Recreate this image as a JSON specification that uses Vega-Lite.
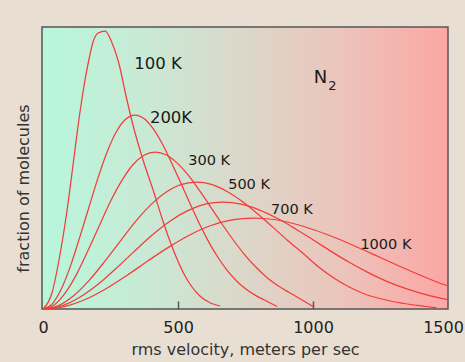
{
  "$schema": "https://vega.github.io/schema/vega-lite/v6.json",
  "width": 406,
  "height": 282,
  "autosize": {"type": "none"},
  "padding": {"left": 42, "top": 27, "right": 17, "bottom": 53},
  "background": "#e8dfd2",
  "config": {
    "font": "DejaVu Sans",
    "view": {
      "fill": {"gradient": "linear", "x1": 0, "y1": 0, "x2": 1, "y2": 0,
        "stops": [
          {"offset": 0, "color": "#b7f7dc"},
          {"offset": 0.25, "color": "#c8ead5"},
          {"offset": 0.5, "color": "#dcd7c9"},
          {"offset": 0.75, "color": "#ecc3ba"},
          {"offset": 1, "color": "#fca6a3"}
        ]},
      "stroke": "#555555",
      "strokeWidth": 1.5
    }
  },
  "layer": [
    {
      "data": {"values": [
        {"T": "100 K", "v": 0, "f": 0}, {"T": "100 K", "v": 33, "f": 16}, {"T": "100 K", "v": 59, "f": 49}, {"T": "100 K", "v": 89, "f": 99}, {"T": "100 K", "v": 111, "f": 144}, {"T": "100 K", "v": 130, "f": 184}, {"T": "100 K", "v": 148, "f": 217}, {"T": "100 K", "v": 171, "f": 251}, {"T": "100 K", "v": 185, "f": 267}, {"T": "100 K", "v": 204, "f": 276}, {"T": "100 K", "v": 230, "f": 278}, {"T": "100 K", "v": 254, "f": 267}, {"T": "100 K", "v": 285, "f": 241}, {"T": "100 K", "v": 304, "f": 217}, {"T": "100 K", "v": 333, "f": 184}, {"T": "100 K", "v": 368, "f": 151}, {"T": "100 K", "v": 410, "f": 117}, {"T": "100 K", "v": 444, "f": 88}, {"T": "100 K", "v": 481, "f": 60}, {"T": "100 K", "v": 526, "f": 33}, {"T": "100 K", "v": 581, "f": 13}, {"T": "100 K", "v": 620, "f": 6}, {"T": "100 K", "v": 656, "f": 3},
        {"T": "200 K", "v": 0, "f": 0}, {"T": "200 K", "v": 34, "f": 5.2}, {"T": "200 K", "v": 68, "f": 20.3}, {"T": "200 K", "v": 102, "f": 43.4}, {"T": "200 K", "v": 136, "f": 71.9}, {"T": "200 K", "v": 171, "f": 102.7}, {"T": "200 K", "v": 205, "f": 132.4}, {"T": "200 K", "v": 239, "f": 158.3}, {"T": "200 K", "v": 273, "f": 178}, {"T": "200 K", "v": 307, "f": 190}, {"T": "200 K", "v": 341, "f": 194}, {"T": "200 K", "v": 375, "f": 190.3}, {"T": "200 K", "v": 409, "f": 179.9}, {"T": "200 K", "v": 443, "f": 164.5}, {"T": "200 K", "v": 477, "f": 145.6}, {"T": "200 K", "v": 512, "f": 125.1}, {"T": "200 K", "v": 546, "f": 104.4}, {"T": "200 K", "v": 580, "f": 84.7}, {"T": "200 K", "v": 614, "f": 66.9}, {"T": "200 K", "v": 648, "f": 51.5}, {"T": "200 K", "v": 682, "f": 38.6}, {"T": "200 K", "v": 716, "f": 28.3}, {"T": "200 K", "v": 750, "f": 20.2}, {"T": "200 K", "v": 784, "f": 14.1}, {"T": "200 K", "v": 818, "f": 9.2}, {"T": "200 K", "v": 845, "f": 5.5}, {"T": "200 K", "v": 867, "f": 2.5},
        {"T": "300 K", "v": 0, "f": 0}, {"T": "300 K", "v": 42, "f": 4.2}, {"T": "300 K", "v": 83, "f": 16.4}, {"T": "300 K", "v": 125, "f": 35.1}, {"T": "300 K", "v": 166, "f": 58.2}, {"T": "300 K", "v": 208, "f": 83.1}, {"T": "300 K", "v": 249, "f": 107.2}, {"T": "300 K", "v": 291, "f": 128.1}, {"T": "300 K", "v": 332, "f": 144}, {"T": "300 K", "v": 374, "f": 153.8}, {"T": "300 K", "v": 415, "f": 157}, {"T": "300 K", "v": 457, "f": 154}, {"T": "300 K", "v": 498, "f": 145.6}, {"T": "300 K", "v": 540, "f": 133.1}, {"T": "300 K", "v": 581, "f": 117.8}, {"T": "300 K", "v": 623, "f": 101.2}, {"T": "300 K", "v": 664, "f": 84.5}, {"T": "300 K", "v": 706, "f": 68.5}, {"T": "300 K", "v": 747, "f": 54.2}, {"T": "300 K", "v": 789, "f": 41.7}, {"T": "300 K", "v": 830, "f": 31.3}, {"T": "300 K", "v": 872, "f": 22.9}, {"T": "300 K", "v": 913, "f": 16.3}, {"T": "300 K", "v": 950, "f": 10.5}, {"T": "300 K", "v": 978, "f": 6}, {"T": "300 K", "v": 1000, "f": 2.5},
        {"T": "500 K", "v": 0, "f": 0}, {"T": "500 K", "v": 57, "f": 3.4}, {"T": "500 K", "v": 113, "f": 13.3}, {"T": "500 K", "v": 170, "f": 28.4}, {"T": "500 K", "v": 227, "f": 47.1}, {"T": "500 K", "v": 284, "f": 67.2}, {"T": "500 K", "v": 340, "f": 86.7}, {"T": "500 K", "v": 397, "f": 103.6}, {"T": "500 K", "v": 454, "f": 116.5}, {"T": "500 K", "v": 510, "f": 124.4}, {"T": "500 K", "v": 567, "f": 127}, {"T": "500 K", "v": 624, "f": 124.6}, {"T": "500 K", "v": 680, "f": 117.8}, {"T": "500 K", "v": 737, "f": 107.7}, {"T": "500 K", "v": 794, "f": 95.3}, {"T": "500 K", "v": 851, "f": 81.9}, {"T": "500 K", "v": 907, "f": 68.3}, {"T": "500 K", "v": 964, "f": 55.4}, {"T": "500 K", "v": 1021, "f": 42}, {"T": "500 K", "v": 1077, "f": 31}, {"T": "500 K", "v": 1134, "f": 22}, {"T": "500 K", "v": 1191, "f": 15}, {"T": "500 K", "v": 1247, "f": 10.5}, {"T": "500 K", "v": 1304, "f": 7}, {"T": "500 K", "v": 1361, "f": 4.5}, {"T": "500 K", "v": 1418, "f": 2.5}, {"T": "500 K", "v": 1459, "f": 1},
        {"T": "700 K", "v": 0, "f": 0}, {"T": "700 K", "v": 67, "f": 2.9}, {"T": "700 K", "v": 133, "f": 11.2}, {"T": "700 K", "v": 200, "f": 23.9}, {"T": "700 K", "v": 267, "f": 39.7}, {"T": "700 K", "v": 334, "f": 56.6}, {"T": "700 K", "v": 400, "f": 73}, {"T": "700 K", "v": 467, "f": 87.3}, {"T": "700 K", "v": 534, "f": 98.1}, {"T": "700 K", "v": 600, "f": 104.8}, {"T": "700 K", "v": 667, "f": 107}, {"T": "700 K", "v": 734, "f": 104.9}, {"T": "700 K", "v": 800, "f": 99.2}, {"T": "700 K", "v": 867, "f": 90.7}, {"T": "700 K", "v": 934, "f": 80.3}, {"T": "700 K", "v": 1001, "f": 69}, {"T": "700 K", "v": 1067, "f": 57.6}, {"T": "700 K", "v": 1134, "f": 46.7}, {"T": "700 K", "v": 1201, "f": 36.9}, {"T": "700 K", "v": 1267, "f": 28.4}, {"T": "700 K", "v": 1334, "f": 21.3}, {"T": "700 K", "v": 1401, "f": 15.6}, {"T": "700 K", "v": 1467, "f": 11.1}, {"T": "700 K", "v": 1500, "f": 9.4},
        {"T": "1000 K", "v": 0, "f": 0}, {"T": "1000 K", "v": 78, "f": 2.4}, {"T": "1000 K", "v": 156, "f": 9.5}, {"T": "1000 K", "v": 233, "f": 20.3}, {"T": "1000 K", "v": 311, "f": 33.7}, {"T": "1000 K", "v": 389, "f": 48.2}, {"T": "1000 K", "v": 467, "f": 62.1}, {"T": "1000 K", "v": 545, "f": 74.3}, {"T": "1000 K", "v": 622, "f": 83.5}, {"T": "1000 K", "v": 700, "f": 89.1}, {"T": "1000 K", "v": 778, "f": 91}, {"T": "1000 K", "v": 856, "f": 89.5}, {"T": "1000 K", "v": 934, "f": 85}, {"T": "1000 K", "v": 1011, "f": 78.5}, {"T": "1000 K", "v": 1089, "f": 70.5}, {"T": "1000 K", "v": 1167, "f": 61.5}, {"T": "1000 K", "v": 1245, "f": 52}, {"T": "1000 K", "v": 1323, "f": 42.5}, {"T": "1000 K", "v": 1400, "f": 33.5}, {"T": "1000 K", "v": 1478, "f": 25}, {"T": "1000 K", "v": 1500, "f": 23}
      ]},
      "mark": {"type": "line", "color": "#f23c3c", "strokeWidth": 1.25, "interpolate": "monotone", "clip": true},
      "encoding": {
        "x": {"field": "v", "type": "quantitative",
          "scale": {"domain": [-4, 1500], "nice": false, "zero": false},
          "axis": {"values": [0, 500, 1000, 1500], "format": "d", "labelFontSize": 16, "labelColor": "#222222", "labelFlush": false,
            "labelOffset": {"condition": {"test": "datum.value == 1500", "value": -5}, "value": 0},
            "tickSize": -8, "tickColor": "#555555", "tickWidth": 1.5,
            "tickOpacity": {"condition": {"test": "datum.value == 500 || datum.value == 1000", "value": 1}, "value": 0},
            "domain": false, "grid": false, "labelPadding": 18,
            "title": "rms velocity, meters per sec", "titleFontSize": 16, "titleFontWeight": "normal", "titleColor": "#333333",
            "titleY": 45, "titleBaseline": "alphabetic"}},
        "y": {"field": "f", "type": "quantitative",
          "scale": {"domain": [0, 282], "nice": false},
          "axis": {"title": "fraction of molecules", "labels": false, "ticks": false, "domain": false, "grid": false,
            "titleFontSize": 16, "titleFontWeight": "normal", "titleColor": "#333333",
            "titleX": -14, "titleY": 161, "titleBaseline": "alphabetic", "titleAngle": -90}},
        "detail": {"field": "T", "type": "nominal"}
      }
    },
    {
      "data": {"values": [
        {"label": "100 K", "v": 426, "f": 245},
        {"label": "200K", "v": 474, "f": 191}
      ]},
      "mark": {"type": "text", "fontSize": 16.5, "color": "#1a1a1a", "baseline": "middle", "align": "center"},
      "encoding": {"x": {"field": "v", "type": "quantitative"}, "y": {"field": "f", "type": "quantitative"}, "text": {"field": "label"}}
    },
    {
      "data": {"values": [
        {"label": "300 K", "v": 615, "f": 148},
        {"label": "500 K", "v": 763, "f": 124},
        {"label": "700 K", "v": 922, "f": 99},
        {"label": "1000 K", "v": 1270, "f": 64}
      ]},
      "mark": {"type": "text", "fontSize": 14.5, "color": "#1a1a1a", "baseline": "middle", "align": "center"},
      "encoding": {"x": {"field": "v", "type": "quantitative"}, "y": {"field": "f", "type": "quantitative"}, "text": {"field": "label"}}
    },
    {
      "data": {"values": [{"label": "N", "v": 1028, "f": 231.5}]},
      "mark": {"type": "text", "fontSize": 18, "color": "#1a1a1a", "baseline": "middle", "align": "center"},
      "encoding": {"x": {"field": "v", "type": "quantitative"}, "y": {"field": "f", "type": "quantitative"}, "text": {"field": "label"}}
    },
    {
      "data": {"values": [{"label": "2", "v": 1072, "f": 223}]},
      "mark": {"type": "text", "fontSize": 13, "color": "#1a1a1a", "baseline": "middle", "align": "center"},
      "encoding": {"x": {"field": "v", "type": "quantitative"}, "y": {"field": "f", "type": "quantitative"}, "text": {"field": "label"}}
    }
  ]
}
